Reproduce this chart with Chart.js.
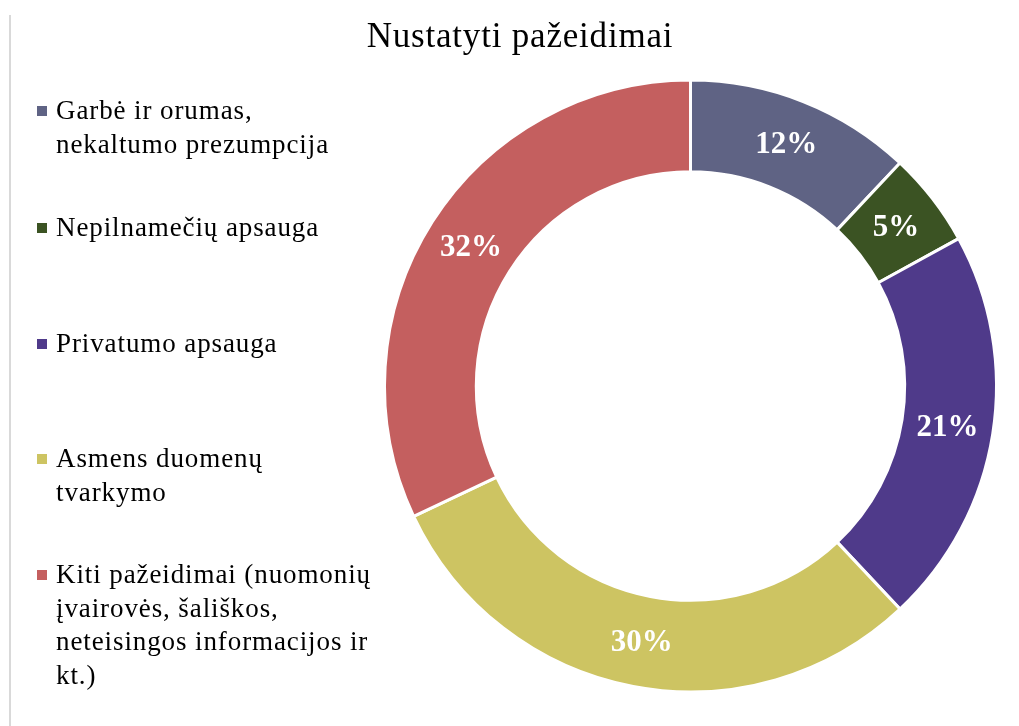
<!DOCTYPE html>
<html>
<head>
<meta charset="utf-8">
<script src="https://cdn.jsdelivr.net/npm/chart.js@4/dist/chart.umd.min.js"></script>
<style>
  html, body { margin: 0; padding: 0; background: #ffffff; }
  canvas { display: block; }
</style>
</head>
<body>
<canvas id="c" width="1019" height="726"></canvas>
<script>
// ---- Data ----
const chartTitle = "Nustatyti pažeidimai";
const categories = [
  ["Garbė ir orumas,", "nekaltumo prezumpcija"],
  ["Nepilnamečių apsauga"],
  ["Privatumo apsauga"],
  ["Asmens duomenų", "tvarkymo"],
  ["Kiti pažeidimai (nuomonių", "įvairovės, šališkos,", "neteisingos informacijos ir", "kt.)"]
];
const shares = [12, 5, 21, 30, 32];
const colors = ["#5F6384", "#3B5323", "#4F3A8A", "#CDC462", "#C45F5F"];

// ---- Styling / layout ----
const SERIF = "'Liberation Serif', 'Times New Roman', serif";
const legendBaselines = [119, 236, 352, 467, 583];
const legendLineHeight = 33.5;

const decorPlugin = {
  id: 'decor',
  beforeDraw(chart) {
    const ctx = chart.ctx;
    ctx.save();
    ctx.fillStyle = '#ffffff';
    ctx.fillRect(0, 0, chart.width, chart.height);
    // left grey rule
    ctx.fillStyle = '#d9d9d9';
    ctx.fillRect(9, 15, 2, chart.height - 15);
    // title
    ctx.fillStyle = '#000000';
    ctx.font = '35px ' + SERIF;
    ctx.letterSpacing = '0.8px';
    ctx.textAlign = 'left';
    ctx.textBaseline = 'alphabetic';
    const tw = ctx.measureText(chartTitle).width;
    ctx.fillText(chartTitle, 520 - tw / 2, 47);
    // legend
    ctx.font = '27px ' + SERIF;
    ctx.letterSpacing = '0.9px';
    ctx.textAlign = 'left';
    categories.forEach((lines, i) => {
      const b = legendBaselines[i];
      ctx.fillStyle = colors[i];
      ctx.fillRect(37, b - 13, 10, 10);
      ctx.fillStyle = '#000000';
      lines.forEach((ln, j) => {
        ctx.fillText(ln, 56, b + j * legendLineHeight);
      });
    });
    ctx.letterSpacing = '0px';
    ctx.restore();
  },
  afterDatasetsDraw(chart) {
    const ctx = chart.ctx;
    const meta = chart.getDatasetMeta(0);
    ctx.save();
    ctx.fillStyle = '#ffffff';
    ctx.font = 'bold 31px ' + SERIF;
    ctx.textAlign = 'center';
    ctx.textBaseline = 'middle';
    meta.data.forEach((arc, i) => {
      const p = arc.tooltipPosition();
      ctx.fillText(shares[i] + '%', p.x, p.y + 1);
    });
    ctx.restore();
  }
};

new Chart(document.getElementById('c'), {
  type: 'doughnut',
  data: {
    labels: categories.map(l => l.join(' ')),
    datasets: [{
      data: shares,
      backgroundColor: colors,
      borderColor: '#ffffff',
      borderWidth: 3,
      hoverOffset: 0
    }]
  },
  options: {
    responsive: false,
    animation: false,
    cutout: '70%',
    rotation: 0,
    layout: { padding: { left: 383, right: 21, top: 78.5, bottom: 32.5 } },
    plugins: {
      legend: { display: false },
      title: { display: false },
      tooltip: { enabled: false }
    }
  },
  plugins: [decorPlugin]
});
</script>
</body>
</html>
